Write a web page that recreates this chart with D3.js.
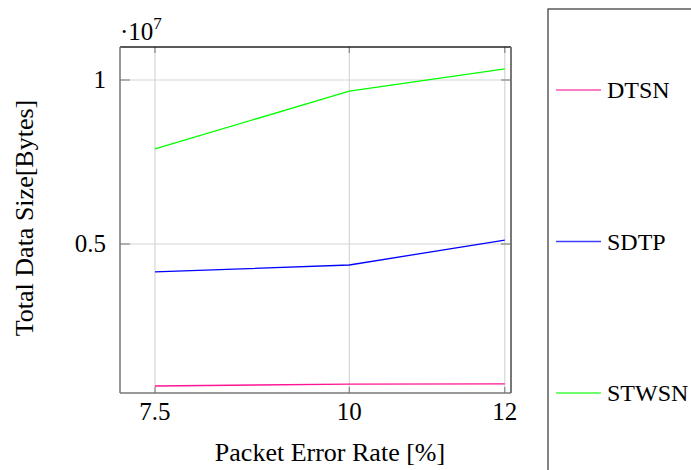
<!DOCTYPE html>
<html>
<head>
<meta charset="utf-8">
<script src="https://cdn.jsdelivr.net/npm/d3@7"></script>
<style>
  body { margin: 0; background: #fff; }
  text { font-family: "Liberation Serif", "DejaVu Serif", serif; fill: #000; }
</style>
</head>
<body>
<svg width="691" height="470"></svg>
<script>
// x values (packet error rate, %)
var errorRates = [7.5, 10, 12];
var seriesNames = ['DTSN', 'SDTP', 'STWSN'];
var dtsnValues = [0.067e7, 0.073e7, 0.0735e7];
var sdtpValues = [0.415e7, 0.436e7, 0.512e7];
var stwsnValues = [0.79e7, 0.966e7, 1.034e7];
var seriesColors = ['#ff1493', '#0000ff', '#00ff00'];
var yTicks = [0.5e7, 1e7];
var yTickLabels = ['0.5', '1'];

var series = seriesNames.map(function(name, i) {
  var vals = [dtsnValues, sdtpValues, stwsnValues][i];
  return { name: name, color: seriesColors[i], points: errorRates.map(function(x, j) { return { x: x, y: vals[j] }; }) };
});

var svg = d3.select('svg');
var plotLeft = 120, plotRight = 511, plotTop = 47, plotBottom = 393;

var x = d3.scaleLinear().domain([7.05, 12.08]).range([plotLeft, plotRight]);
var y = d3.scaleLinear().domain([0.0457e7, 1.1006e7]).range([plotBottom, plotTop]);

// grid lines
svg.selectAll('.gridX').data(errorRates).enter().append('line')
  .attr('x1', d => x(d)).attr('x2', d => x(d))
  .attr('y1', plotTop).attr('y2', plotBottom)
  .attr('stroke', '#d6d6d6').attr('stroke-width', 1.2);
svg.selectAll('.gridY').data(yTicks).enter().append('line')
  .attr('x1', plotLeft).attr('x2', plotRight)
  .attr('y1', d => y(d)).attr('y2', d => y(d))
  .attr('stroke', '#d6d6d6').attr('stroke-width', 1.2);

// tick marks (inside)
errorRates.forEach(function(d) {
  svg.append('line').attr('x1', x(d)).attr('x2', x(d)).attr('y1', plotBottom).attr('y2', plotBottom - 6)
    .attr('stroke', '#888').attr('stroke-width', 1.2);
  svg.append('line').attr('x1', x(d)).attr('x2', x(d)).attr('y1', plotTop).attr('y2', plotTop + 6)
    .attr('stroke', '#888').attr('stroke-width', 1.2);
});
yTicks.forEach(function(d) {
  svg.append('line').attr('x1', plotLeft).attr('x2', plotLeft + 10).attr('y1', y(d)).attr('y2', y(d))
    .attr('stroke', '#888').attr('stroke-width', 1.2);
  svg.append('line').attr('x1', plotRight).attr('x2', plotRight - 10).attr('y1', y(d)).attr('y2', y(d))
    .attr('stroke', '#888').attr('stroke-width', 1.2);
});

// data lines
var line = d3.line().x(d => x(d.x)).y(d => y(d.y));
svg.selectAll('.series').data(series).enter().append('path')
  .attr('d', d => line(d.points))
  .attr('fill', 'none')
  .attr('stroke', d => d.color)
  .attr('stroke-width', 1.3);

// axis frame
svg.append('line').attr('x1', plotLeft).attr('x2', plotRight).attr('y1', plotTop).attr('y2', plotTop).attr('stroke', '#222').attr('stroke-width', 1.3);
svg.append('line').attr('x1', plotLeft).attr('x2', plotRight).attr('y1', plotBottom).attr('y2', plotBottom).attr('stroke', '#777').attr('stroke-width', 1.5);
svg.append('line').attr('x1', plotLeft).attr('x2', plotLeft).attr('y1', plotTop).attr('y2', plotBottom).attr('stroke', '#777').attr('stroke-width', 1.5);
svg.append('line').attr('x1', plotRight).attr('x2', plotRight).attr('y1', plotTop).attr('y2', plotBottom).attr('stroke', '#777').attr('stroke-width', 2);

// tick labels
svg.selectAll('.xLabel').data(errorRates).enter().append('text')
  .text(d => d)
  .attr('x', d => x(d)).attr('y', 420)
  .attr('text-anchor', 'middle')
  .attr('font-size', 25);
svg.selectAll('.yLabel').data(yTicks).enter().append('text')
  .text((d, i) => yTickLabels[i])
  .attr('x', 106).attr('y', d => y(d) + 8)
  .attr('text-anchor', 'end')
  .attr('font-size', 25);

// exponent
var expo = svg.append('text').attr('x', 120).attr('y', 40).attr('font-size', 25);
expo.append('tspan').text('·10');
expo.append('tspan').text('7').attr('font-size', 17).attr('dy', -11);

// axis titles
svg.append('text').text('Packet Error Rate [%]')
  .attr('x', 330).attr('y', 461).attr('text-anchor', 'middle').attr('font-size', 26);
svg.append('text').text('Total Data Size[Bytes]')
  .attr('transform', 'translate(33,218) rotate(-90)')
  .attr('text-anchor', 'middle').attr('font-size', 26);

// legend
svg.append('rect').attr('x', 548).attr('y', 9).attr('width', 160).attr('height', 480)
  .attr('fill', 'none').attr('stroke', '#333').attr('stroke-width', 1.2);
var legendY = d3.scalePoint().domain(seriesNames).range([90, 393]);
var items = svg.selectAll('.legend').data(series).enter().append('g')
  .attr('transform', d => 'translate(0,' + legendY(d.name) + ')');
items.append('line').attr('x1', 556).attr('x2', 601).attr('y1', 0).attr('y2', 0)
  .attr('stroke', d => d.color).attr('stroke-width', 1.3).attr('opacity', 0.75);
items.append('text').text(d => d.name).attr('x', 607).attr('y', 8).attr('font-size', 24);
</script>
</body>
</html>
